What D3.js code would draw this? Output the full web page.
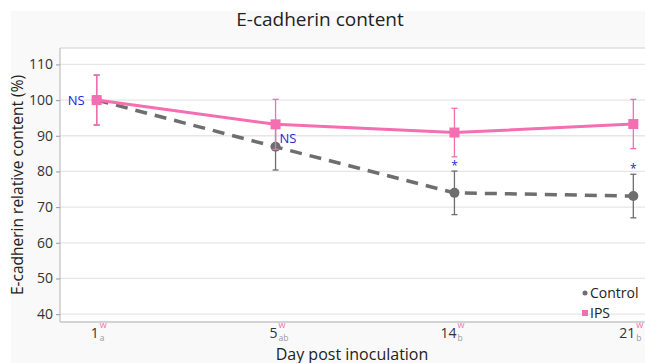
<!DOCTYPE html>
<html>
<head>
<meta charset="utf-8">
<script src="https://cdn.jsdelivr.net/npm/d3@7"></script>
<style>
  body { margin: 0; background: #fff; }
  text { font-family: "Open Sans", "Noto Sans", sans-serif; }
</style>
</head>
<body>
<svg width="645" height="363"></svg>
<script>
// categories and letters under each tick
const days = ['1', '5', '14', '21'];
const supLabels = ['w', 'w', 'w', 'w'];
const subLabels = ['a', 'ab', 'b', 'b'];

// series values (mean and error half-width)
const controlMean = [100, 86.9, 74.0, 73.1];
const controlErr = [7.0, 6.5, 6.1, 6.1];
const ipsMean = [100, 93.2, 90.9, 93.3];
const ipsErr = [7.0, 7.0, 6.8, 6.9];

// significance marks
const marks = ['NS', 'NS', '*', '*'];

const yTicks = [40, 50, 60, 70, 80, 90, 100, 110];

const pink = '#f46eb1';
const grey = '#6e6e6e';
const blue = '#2424e0';

const svg = d3.select('svg');

// outer panel
svg.append('rect').attr('x', 11).attr('y', 11).attr('width', 640).attr('height', 360).attr('fill', '#f9f9f9');

const pLeft = 60, pRight = 670, pTop = 48, pBottom = 322;

const x = d3.scalePoint().domain(days).range([pLeft, pRight]).padding(0.205);
const y = d3.scaleLinear().domain([37.8, 114.6]).range([pBottom, pTop]);

svg.append('rect').attr('x', pLeft).attr('y', pTop).attr('width', pRight - pLeft).attr('height', pBottom - pTop)
    .attr('fill', '#fff');

// gridlines
svg.append('g').selectAll('line').data(yTicks).enter().append('line')
    .attr('x1', pLeft).attr('x2', pRight)
    .attr('y1', d => y(d)).attr('y2', d => y(d))
    .attr('stroke', '#e6e6e6').attr('stroke-width', 1.3);

// frame
svg.append('line').attr('x1', pLeft).attr('x2', pRight).attr('y1', pTop).attr('y2', pTop).attr('stroke', '#d0d0d0');
svg.append('line').attr('x1', pLeft).attr('x2', pRight).attr('y1', pBottom).attr('y2', pBottom).attr('stroke', '#c4c4c4').attr('stroke-width', 1.3);
svg.append('line').attr('x1', pLeft).attr('x2', pLeft).attr('y1', pTop).attr('y2', pBottom).attr('stroke', '#c4c4c4').attr('stroke-width', 1.3);

// y axis
const yAxis = svg.append('g').attr('transform', `translate(${pLeft},0)`)
    .call(d3.axisLeft(y).tickValues(yTicks).tickSize(4).tickPadding(3));
yAxis.select('.domain').remove();
yAxis.selectAll('line').attr('stroke', '#9a9a9a');
yAxis.selectAll('text').attr('font-size', 14).attr('fill', '#333');

// x tick labels with sup / sub letters
const xl = svg.append('g').selectAll('g').data(days).enter().append('g')
    .attr('transform', d => `translate(${x(d)},338)`);
xl.append('text').attr('text-anchor', 'end').attr('x', 2).attr('font-size', 14).attr('fill', '#333').text(d => d);
xl.append('text').attr('x', 3).attr('y', -10).attr('font-size', 9).attr('fill', pink).text((d, i) => supLabels[i]);
xl.append('text').attr('x', 3).attr('y', 3).attr('font-size', 8.5).attr('fill', '#999').text((d, i) => subLabels[i]);

// titles
svg.append('text').attr('x', 320).attr('y', 26).attr('text-anchor', 'middle').attr('font-size', 19).attr('fill', '#222')
    .text('E-cadherin content');
svg.append('text').attr('x', 352).attr('y', 360).attr('text-anchor', 'middle').attr('font-size', 16).attr('fill', '#222')
    .text('Day post inoculation');
svg.append('text').attr('transform', `translate(23,${(pTop + pBottom) / 2}) rotate(-90)`)
    .attr('text-anchor', 'middle').attr('font-size', 15.5).attr('fill', '#222')
    .text('E-cadherin relative content (%)');

function series(mean, err, color, dashed) {
    const g = svg.append('g');
    const pts = days.map((d, i) => ({ d, m: mean[i], e: err[i] }));
    g.selectAll('.eb').data(pts).enter().append('line')
        .attr('x1', p => x(p.d)).attr('x2', p => x(p.d))
        .attr('y1', p => y(p.m - p.e)).attr('y2', p => y(p.m + p.e))
        .attr('stroke', color).attr('stroke-width', 1.3);
    [-1, 1].forEach(s => {
        g.selectAll('.cap' + s).data(pts).enter().append('line')
            .attr('x1', p => x(p.d) - 3).attr('x2', p => x(p.d) + 3)
            .attr('y1', p => y(p.m + s * p.e)).attr('y2', p => y(p.m + s * p.e))
            .attr('stroke', color).attr('stroke-width', 1.3);
    });
    g.append('path').datum(pts)
        .attr('d', d3.line().x(p => x(p.d)).y(p => y(p.m)))
        .attr('fill', 'none').attr('stroke', color)
        .attr('stroke-width', dashed ? 3.5 : 3)
        .attr('stroke-dasharray', dashed ? '12,8' : null);
    return { g, pts };
}

const ctl = series(controlMean, controlErr, grey, true);
ctl.g.selectAll('circle').data(ctl.pts).enter().append('circle')
    .attr('cx', p => x(p.d)).attr('cy', p => y(p.m)).attr('r', 5).attr('fill', grey);

const ips = series(ipsMean, ipsErr, pink, false);
ips.g.selectAll('rect.pt').data(ips.pts).enter().append('rect')
    .attr('x', p => x(p.d) - 5).attr('y', p => y(p.m) - 5)
    .attr('width', 10).attr('height', 10).attr('fill', pink);

// significance labels
svg.append('text').attr('x', x('1') - 12).attr('y', y(ipsMean[0]) + 5).attr('text-anchor', 'end')
    .attr('font-size', 13).attr('fill', blue).text(marks[0]);
svg.append('text').attr('x', x('5') + 4).attr('y', y(controlMean[1]) - 4)
    .attr('font-size', 13).attr('fill', blue).text(marks[1]);
[2, 3].forEach(i => {
    svg.append('text').attr('x', x(days[i])).attr('y', y(controlMean[i] + controlErr[i]) - 1).attr('text-anchor', 'middle')
        .attr('font-size', 12).attr('fill', blue).text(marks[i]);
});

// legend
const lg = svg.append('g').attr('transform', 'translate(582,293)');
lg.append('circle').attr('cx', 3).attr('cy', 0).attr('r', 2.5).attr('fill', grey);
lg.append('text').attr('x', 8).attr('y', 5).attr('font-size', 14).attr('fill', '#222').text('Control');
lg.append('rect').attr('x', 0).attr('y', 17).attr('width', 6).attr('height', 6).attr('fill', pink);
lg.append('text').attr('x', 8).attr('y', 25).attr('font-size', 14).attr('fill', '#222').text('IPS');
</script>
</body>
</html>
